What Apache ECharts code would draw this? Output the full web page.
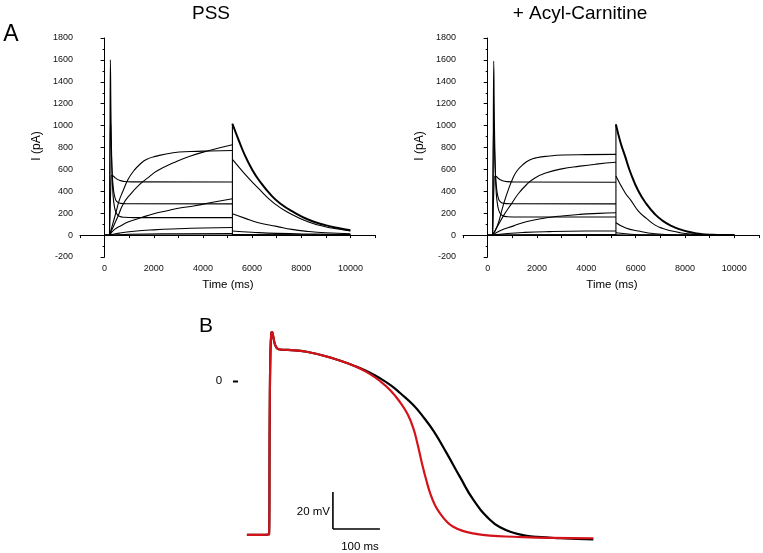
<!DOCTYPE html>
<html lang="en">
<head>
    <meta charset="UTF-8">
    <title>Voltage clamp and action potential</title>
    <script src="https://cdn.jsdelivr.net/npm/echarts@6/dist/echarts.min.js"></script>
    <style>
        html, body { margin: 0; padding: 0; background: #fff; }
        #container { width: 763px; height: 553px; }
    </style>
</head>
<body>
<div id="container"></div>
<script type="text/javascript">

    // ---- panel A, PSS : currents during the step (ms, pA)
    var pssT1 = [[0,0],[200,0],[235,1600],[265,1000],[300,600],[340,380],[400,260],[480,200],[600,172],[800,163],[1200,160],[5200,160]];
    var pssT2 = [[200,0],[240,1050],[270,800],[310,560],[360,420],[420,345],[500,305],[650,290],[900,286],[5200,285]];
    var pssT3 = [[200,0],[255,450],[290,545],[350,540],[450,520],[600,500],[800,490],[1100,486],[5200,485]];
    var pssD  = [[200,0],[330,100],[476,219],[600,320],[748,402],[952,508],[1200,590],[1429,645],[1700,690],[2109,721],[2789,752],[3500,763],[4300,768],[5200,772]];
    var pssE  = [[200,0],[400,100],[550,175],[748,280],[1000,360],[1429,463],[1800,530],[2109,584],[2800,660],[3469,721],[4300,775],[5200,825]];
    var pssF  = [[200,0],[408,52],[680,88],[952,119],[1500,160],[2000,195],[2500,220],[3000,245],[3673,268],[4400,300],[5200,332]];
    var pssG  = [[200,0],[600,18],[1200,35],[2000,48],[3000,58],[4000,65],[5200,70]];
    var pssH  = [[0,0],[200,0],[1000,8],[3000,13],[5200,15]];
    var pssZero = [[0,0],[5200,0]];
    // tails after the step
    var pssTailA = [[5200,1017],[5450,870],[5700,733],[6000,600],[6260,508],[6800,358],[7200,280],[7620,219],[8300,140],[8980,91],[9500,64],[10000,45]];
    var pssTailE = [[5200,691],[5700,560],[6260,426],[6900,290],[7620,189],[8300,120],[8980,76],[9500,55],[10000,37]];
    var pssTailF = [[5200,195],[5700,155],[6260,113],[7000,80],[7620,52],[8300,33],[8980,21],[10000,12]];
    var pssTailG = [[5200,37],[6000,26],[7000,16],[8500,9],[10000,5]];
    var pssTailH = [[5200,5],[10000,1]];
    var pssTailZero = [[5200,0],[10000,0]];
    var pssEdge = [[5200,0],[5200,1017]];

    // ---- panel A, + Acyl-Carnitine
    var acT1 = [[0,0],[200,0],[245,1590],[275,1000],[310,600],[350,380],[410,265],[490,205],[610,177],[800,168],[1200,165],[5200,165]];
    var acT2 = [[200,0],[245,1030],[275,800],[315,560],[365,420],[425,345],[505,305],[650,290],[900,286],[5200,285]];
    var acT3 = [[200,0],[255,450],[290,540],[350,535],[450,515],[600,497],[800,488],[1100,485],[5200,483]];
    var acD  = [[200,0],[400,90],[622,265],[800,390],[1030,523],[1200,590],[1436,645],[1700,685],[1978,706],[2500,722],[3060,731],[4000,735],[5200,737]];
    var acE  = [[200,0],[400,80],[650,180],[962,285],[1250,380],[1572,460],[1900,520],[2385,569],[3000,605],[3740,630],[4400,648],[5200,665]];
    var acF  = [[200,0],[500,40],[1030,82],[1600,125],[2386,158],[3000,175],[3740,189],[4500,198],[5200,204]];
    var acG  = [[200,0],[800,15],[1500,25],[2500,32],[4000,37],[5200,38]];
    var acH  = [[0,0],[200,0],[1500,3],[5200,5]];
    var acZero = [[0,0],[5200,0]];
    var acTailA = [[5200,1011],[5380,850],[5570,721],[5800,565],[6110,402],[6450,280],[6790,189],[7100,130],[7470,82],[7800,52],[8140,30],[8500,15],[8820,6],[9300,2],[10000,0]];
    var acTailE = [[5200,539],[5570,387],[5800,320],[6110,219],[6450,150],[6790,91],[7100,60],[7470,37],[7800,22],[8140,12],[8820,3],[10000,0]];
    var acTailF = [[5200,113],[5600,65],[6110,37],[6790,12],[7470,3],[8500,0],[10000,0]];
    var acTailG = [[5200,21],[5800,8],[6500,2],[7500,0],[10000,0]];
    var acTailH = [[5200,3],[6000,0],[10000,0]];
    var acEdge = [[5200,0],[5200,1011]];

    // ---- panel B, action potentials (ms, mV)
    var apControl = [[-47,-83.2],[0,-83],[1.5,-20],[3,15],[5,26],[6.5,26.5],[9,24],[13,19.5],[18,17.5],[25,17],[40,16.8],[80,15.8],[137,12.2],[187,7.7],[208,5.3],[236,1.5],[260,-2.5],[279,-6.5],[307,-13],[330,-20],[350,-27],[378,-39],[406,-51.7],[435,-64.3],[470,-75],[495,-79.5],[520,-82],[545,-83.5],[570,-84.3],[620,-85],[690,-85.6]];
    var apCarnitine = [[-47,-83.2],[0,-83],[1.5,-20],[3,15],[5,26],[6.5,26.5],[9,24],[13,19.5],[18,17.5],[25,17],[40,16.8],[80,15.8],[137,12.2],[187,7.5],[208,4.8],[236,0],[258,-5],[279,-11.5],[295,-18],[307,-25.5],[316,-34],[325,-44],[334,-53],[343,-60.7],[353,-67],[364,-71.6],[378,-76],[392,-78.8],[412,-81],[435,-82.4],[470,-83.6],[520,-84.2],[600,-84.8],[690,-85]];
    // scale bar: 20 mV, 100 ms
    var barV = [[136,-80],[136,-60]];
    var barT = [[136,-80],[236,-80]];

    var font = 'Liberation Sans, Arial, sans-serif';
    var myChart = echarts.init(document.getElementById('container'));

    function trace(data, grid, width, smooth) {
        return {
            type: 'line', xAxisIndex: grid, yAxisIndex: grid, data: data,
            showSymbol: false, symbol: 'none', silent: true,
            smooth: smooth === undefined ? 0.5 : smooth,
            lineStyle: { color: '#000', width: width || 1.1 }
        };
    }

    function xAxisA(grid) {
        return {
            type: 'value', gridIndex: grid, min: -1000, max: 11000, interval: 1000,
            axisLine: { lineStyle: { color: '#000', width: 1 } },
            axisTick: { length: 3, lineStyle: { color: '#000' } },
            splitLine: { show: false },
            axisLabel: {
                fontSize: 9, fontFamily: font, color: '#111', margin: 7,
                formatter: function (v) { return (v >= 0 && v <= 10000 && v % 2000 === 0) ? String(v) : ''; }
            }
        };
    }
    function yAxisA(grid) {
        return {
            type: 'value', gridIndex: grid, min: -200, max: 1800, interval: 200,
            axisLine: { show: true, lineStyle: { color: '#000', width: 1 } },
            axisTick: { show: true, length: 4, lineStyle: { color: '#000' } },
            minorTick: { show: true, splitNumber: 2, length: 2, lineStyle: { color: '#000' } },
            splitLine: { show: false },
            axisLabel: {
                fontSize: 9, fontFamily: font, color: '#111', margin: 7,
                formatter: function (v) { return String(v); }
            }
        };
    }

    var series = [];
    [pssT1, pssT2, pssT3, pssD, pssE, pssF, pssG, pssH, pssZero].forEach(function (d) { series.push(trace(d, 0)); });
    series.push(trace(pssTailA, 0, 2));
    [pssTailE, pssTailF, pssTailG, pssTailH, pssTailZero].forEach(function (d) { series.push(trace(d, 0)); });
    series.push(trace(pssEdge, 0, 1.1, false));

    [acT1, acT2, acT3, acD, acE, acF, acG, acH, acZero].forEach(function (d) { series.push(trace(d, 1)); });
    series.push(trace(acTailA, 1, 2));
    [acTailE, acTailF, acTailG, acTailH].forEach(function (d) { series.push(trace(d, 1)); });
    series.push(trace(acEdge, 1, 1.1, false));

    var ctl = trace(apControl, 2, 2.2, 0.5);
    var car = trace(apCarnitine, 2, 2.2, 0.5);
    car.lineStyle.color = '#d4121a';
    series.push(ctl, car);
    series.push(trace(barV, 2, 1.6, false), trace(barT, 2, 1.6, false));

    function txt(text, x, y, size, opts) {
        opts = opts || {};
        return {
            type: 'text', x: x, y: y, rotation: opts.rotation || 0, silent: true,
            style: {
                text: text, fontSize: size, fontFamily: font, fill: '#000',
                align: opts.align || 'center', verticalAlign: 'middle'
            }
        };
    }

    myChart.setOption({
        animation: false,
        backgroundColor: '#fff',
        grid: [
            { left: 80, top: 38, width: 295, height: 219 },
            { left: 463, top: 38, width: 296, height: 219 },
            { left: 245.5, top: 325.5, width: 352.5, height: 222 }
        ],
        xAxis: [
            xAxisA(0), xAxisA(1),
            { type: 'value', gridIndex: 2, min: -50, max: 700, show: false }
        ],
        yAxis: [
            yAxisA(0), yAxisA(1),
            { type: 'value', gridIndex: 2, min: -90, max: 30, show: false }
        ],
        series: series,
        graphic: [
            txt('A', 11, 35, 23),
            txt('PSS', 211, 14, 19),
            txt('+ Acyl-Carnitine', 580, 14, 19),
            txt('I (pA)', 37, 146, 12, { rotation: Math.PI / 2 }),
            txt('I (pA)', 420, 146, 12, { rotation: Math.PI / 2 }),
            txt('Time (ms)', 228, 285, 11.5),
            txt('Time (ms)', 612, 285, 11.5),
            txt('B', 206, 326, 21),
            txt('0', 219, 381, 11.5),
            { type: 'rect', silent: true, shape: { x: 233, y: 380.5, width: 5, height: 2 }, style: { fill: '#000' } },
            txt('20 mV', 330, 512, 11.5, { align: 'right' }),
            txt('100 ms', 360, 547, 11.5)
        ]
    });
</script>
</body>
</html>
